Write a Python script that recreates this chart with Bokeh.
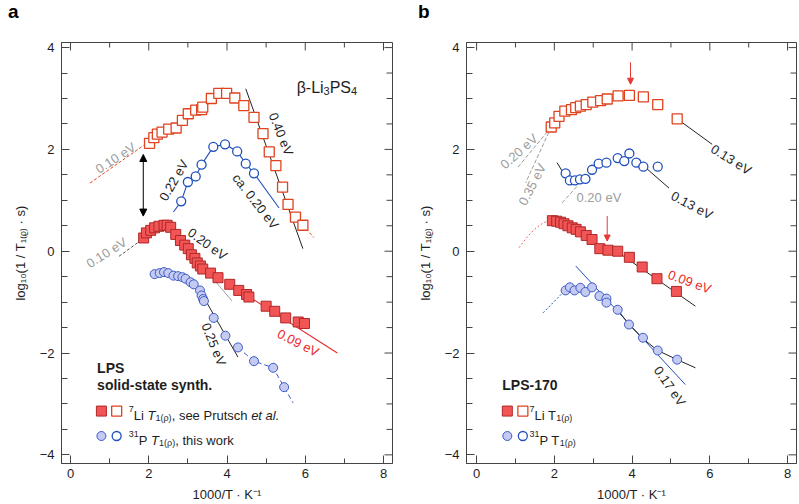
import math
from bokeh.plotting import figure
from bokeh.models import Range1d, FixedTicker, Arrow, NormalHead, Div
from bokeh.layouts import row, column
from bokeh.embed import file_html
from bokeh.resources import INLINE
from bokeh.core.properties import value

FONT = "Liberation Sans"

# ---------------- data: panel a (LPS solid-state synth.) ----------------
a_li_open_x = [2.02, 2.13, 2.22, 2.34, 2.51, 2.70, 2.86, 3.01, 3.20, 3.35, 3.38, 3.60, 3.79, 3.99,
               4.20, 4.43, 4.69, 4.92, 5.08, 5.25, 5.42, 5.56, 5.75, 5.94]
a_li_open_y = [2.12, 2.23, 2.30, 2.34, 2.40, 2.42, 2.57, 2.70, 2.77, 2.78, 2.83, 3.00, 3.10, 3.10,
               3.01, 2.86, 2.63, 2.31, 1.95, 1.68, 1.26, 0.92, 0.67, 0.51]
a_li_fill_x = [1.87, 1.94, 2.05, 2.15, 2.26, 2.39, 2.47, 2.56, 2.69, 2.81, 2.92, 3.01, 3.09, 3.18,
               3.24, 3.32, 3.38, 3.58, 3.77, 4.07, 4.30, 4.50, 4.56, 5.00, 5.22, 5.50, 5.82, 5.98]
a_li_fill_y = [0.26, 0.36, 0.41, 0.46, 0.49, 0.51, 0.51, 0.47, 0.33, 0.21, 0.12, 0.05, -0.07, -0.14,
               -0.23, -0.29, -0.35, -0.43, -0.52, -0.65, -0.77, -0.85, -0.90, -1.08, -1.18, -1.31, -1.39, -1.42]
a_p_open_x = [2.83, 3.00, 3.20, 3.35, 3.65, 3.95, 4.26, 4.48, 4.69]
a_p_open_y = [0.98, 1.36, 1.47, 1.70, 2.05, 2.10, 1.96, 1.72, 1.53]
a_p_fill_x = [2.15, 2.28, 2.39, 2.50, 2.63, 2.75, 2.86, 2.94, 3.07, 3.15, 3.31, 3.35, 3.39, 3.41,
              3.66, 3.96, 4.28, 4.69, 5.18, 5.46]
a_p_fill_y = [-0.45, -0.43, -0.41, -0.43, -0.48, -0.49, -0.51, -0.54, -0.61, -0.65, -0.77, -0.87, -0.94, -0.98,
              -1.31, -1.66, -1.89, -2.16, -2.29, -2.67]

# fit / guide lines panel a
a_fit_li_hi_x, a_fit_li_hi_y = [0.50, 1.87], [1.34, 2.08]          # 0.10 eV (red dashed)
a_fit_li_040_x, a_fit_li_040_y = [4.48, 5.94], [3.19, 0.05]        # 0.40 eV
a_fit_li_tail_x, a_fit_li_tail_y = [5.94, 6.22], [0.51, 0.27]
a_fit_li_lo_x, a_fit_li_lo_y = [1.24, 1.83], [-0.10, 0.23]         # 0.10 eV (dashed)
a_fit_li_020_x, a_fit_li_020_y = [2.55, 4.13], [0.45, -0.98]       # 0.20 eV
a_fit_li_009_x, a_fit_li_009_y = [4.00, 6.82], [-0.62, -2.00]      # 0.09 eV
a_p_open_line_x = [2.63] + a_p_open_x + [5.33]
a_p_open_line_y = [0.77] + a_p_open_y + [0.85]
a_fit_p_025_x, a_fit_p_025_y = [3.32, 4.28], [-0.79, -2.08]        # 0.25 eV
a_p_tail_x = [4.28, 4.69, 5.18, 5.46, 5.69]
a_p_tail_y = [-1.89, -2.16, -2.29, -2.67, -2.98]

# ---------------- data: panel b (LPS-170) ----------------
b_li_open_x = [1.92, 2.01, 2.12, 2.27, 2.44, 2.55, 2.67, 2.82, 2.99, 3.19, 3.36, 3.64, 3.93, 4.29, 4.66, 5.16]
b_li_open_y = [2.44, 2.52, 2.65, 2.75, 2.78, 2.82, 2.85, 2.88, 2.93, 2.96, 2.99, 3.05, 3.06, 3.03, 2.88, 2.60]
b_li_fill_x = [1.95, 2.06, 2.16, 2.25, 2.35, 2.46, 2.56, 2.67, 2.82, 2.97, 3.17, 3.38, 3.63, 3.93, 4.26, 4.64, 5.14]
b_li_fill_y = [0.60, 0.59, 0.57, 0.54, 0.50, 0.46, 0.43, 0.38, 0.31, 0.23, 0.05, 0.02, 0.00, -0.12, -0.31, -0.54, -0.79]
b_p_open_x = [2.29, 2.40, 2.53, 2.66, 2.80, 2.97, 3.14, 3.34, 3.63, 3.80, 3.93, 4.11, 4.29, 4.66]
b_p_open_y = [1.53, 1.39, 1.39, 1.41, 1.42, 1.60, 1.72, 1.74, 1.83, 1.77, 1.92, 1.74, 1.66, 1.66]
b_p_fill_x = [2.29, 2.40, 2.52, 2.67, 2.80, 2.97, 3.16, 3.34, 3.34, 3.63, 3.92, 4.28, 4.66, 5.16]
b_p_fill_y = [-0.77, -0.71, -0.77, -0.72, -0.80, -0.71, -0.88, -0.93, -1.01, -1.15, -1.44, -1.70, -1.95, -2.13]

b_fit_li_013_x, b_fit_li_013_y = [5.16, 6.06], [2.60, 2.10]
b_fit_li_020_x, b_fit_li_020_y = [1.92, 1.05], [2.44, 1.64]
b_fit_li_035_x, b_fit_li_035_y = [1.92, 1.26], [2.44, 1.34]
b_fit_p_short_x, b_fit_p_short_y = [2.07, 2.22], [1.74, 1.55]
b_fit_p_020_x, b_fit_p_020_y = [2.20, 2.59], [0.95, 1.28]
b_fit_p_013_x, b_fit_p_013_y = [4.35, 4.95], [1.64, 1.24]
b_fit_li_009_x, b_fit_li_009_y = [3.60, 5.63], [0.00, -1.08]
b_li_low_x = [1.09, 1.30, 1.50, 1.70, 1.85]
b_li_low_y = [0.07, 0.28, 0.44, 0.55, 0.60]
b_p_low_x, b_p_low_y = [1.71, 2.25], [-1.21, -0.79]
b_fit_p_017_x, b_fit_p_017_y = [2.55, 5.37], [-0.29, -2.62]
b_p_hi_line_x = [3.63, 3.92, 4.28, 4.66, 5.16, 5.63]
b_p_hi_line_y = [-1.15, -1.44, -1.72, -1.95, -2.13, -2.29]

x_major = [0, 2, 4, 6, 8]
x_minor = [1, 3, 5, 7]
y_major = [-4, -2, 0, 2, 4]
y_minor = [-3.5, -3, -2.5, -1.5, -1, -0.5, 0.5, 1, 1.5, 2.5, 3, 3.5]

# ---------------- colours ----------------
RED_OPEN = "#E0431F"
RED_FILL = "#F25555"
RED_EDGE = "#B02828"
BLUE_OPEN = "#2150BC"
BLUE_FILL = "#C4CAF2"
BLUE_EDGE = "#3E5CC4"
GRAY = "#9C9C9C"
TXT = "#1E1E1E"
RED_TXT = "#EA2A2A"
AX = "#444444"

W = {' ': 278, ',': 278, '.': 278, '(': 333, ')': 333, '-': 333, '/': 278,
     'L': 556, 'P': 667, 'T': 611, 'S': 667, 'i': 222, 'e': 556, 's': 500, 'r': 333,
     'u': 556, 't': 278, 'c': 500, 'h': 556, 'a': 556, 'l': 222, 'w': 722, 'o': 556,
     'k': 500, 'ρ': 577, 'β': 573}

HEAD_H = 22   # height of the strip holding the panel letter


def tw(s, size):
    return sum(W.get(c, 556) for c in s) / 1000.0 * size


def make_fig(xr, frame_w, left, right):
    p = figure(frame_width=frame_w, frame_height=421, x_range=Range1d(*xr), y_range=Range1d(-4.17, 4.1),
               output_backend="svg", toolbar_location=None, min_border_left=left, min_border_right=right,
               min_border_top=42 - HEAD_H, min_border_bottom=39)
    p.xgrid.visible = False
    p.ygrid.visible = False
    p.outline_line_color = AX
    p.background_fill_color = "white"
    p.border_fill_color = "white"
    p.xaxis.ticker = FixedTicker(ticks=x_major, minor_ticks=x_minor)
    p.yaxis.ticker = FixedTicker(ticks=y_major, minor_ticks=y_minor)
    for ax in list(p.xaxis) + list(p.yaxis):
        ax.axis_line_color = AX
        ax.major_tick_line_color = AX
        ax.minor_tick_line_color = AX
        ax.major_tick_in = 8
        ax.major_tick_out = 0
        ax.minor_tick_in = 5
        ax.minor_tick_out = 0
        ax.major_label_text_font = FONT
        ax.major_label_text_font_size = "13px"
        ax.major_label_text_color = TXT
        ax.axis_label_text_font = FONT
        ax.axis_label_text_font_size = "13px"
        ax.axis_label_text_font_style = "normal"
        ax.axis_label_text_color = TXT
    p.yaxis.minor_tick_in = 6
    p.xaxis.axis_label = "1000/T · K⁻¹"
    p.xaxis.major_label_standoff = 5
    p.xaxis.axis_label_standoff = 6
    p.yaxis.axis_label = "log₁₀(1 / T₁₍ᵨ₎ · s)"
    p.yaxis.major_label_standoff = 7
    p.yaxis.axis_label_standoff = 9
    # mirrored inner ticks on top and right frame edges (half of each dash is clipped by the frame)
    x0, x1 = xr
    y1 = 4.1
    p.scatter(x_major, [y1] * len(x_major), marker="dash", angle=math.pi / 2, size=16, line_color=AX, line_width=1)
    p.scatter(x_minor, [y1] * len(x_minor), marker="dash", angle=math.pi / 2, size=10, line_color=AX, line_width=1)
    p.scatter([x1] * len(y_major), y_major, marker="dash", size=16, line_color=AX, line_width=1)
    p.scatter([x1] * len(y_minor), y_minor, marker="dash", size=12, line_color=AX, line_width=1)
    return p


def head(letter, width, pad):
    return Div(text=letter, width=width, height=HEAD_H, margin=0,
               styles={"font-family": FONT, "font-size": "19px", "font-weight": "bold", "color": "black",
                       "line-height": "19px", "padding-left": f"{pad}px", "padding-top": "2px",
                       "box-sizing": "border-box", "overflow": "visible"})


def line(p, x, y, color, width=1.1, dash="solid"):
    p.line(x, y, line_color=color, line_width=width, line_dash=dash)


def lab(p, x, y, s, ang, color=TXT, size=13):
    p.text(x=[x], y=[y], text=[s], angle=math.radians(ang), text_align="center", text_baseline="middle",
           text_font=value(FONT), text_font_size=f"{size}px", text_color=color)


def rich(p, x, y, runs, color=TXT):
    xo = 0.0
    for t, size, style, dy in runs:
        p.text(x=[x], y=[y], text=[t], x_offset=xo, y_offset=dy, text_align="left", text_baseline="alphabetic",
               text_font=value(FONT), text_font_size=f"{size}px", text_font_style=style, text_color=color)
        xo += tw(t, size)


def sq_open(p, x, y):
    p.scatter(x, y, marker="square", size=10, fill_color="white", line_color=RED_OPEN, line_width=1.3)


def sq_fill(p, x, y):
    p.scatter(x, y, marker="square", size=10, fill_color=RED_FILL, line_color=RED_EDGE, line_width=1.0)


def ci_open(p, x, y):
    p.scatter(x, y, marker="circle", size=9, fill_color="white", line_color=BLUE_OPEN, line_width=1.3)


def ci_fill(p, x, y):
    p.scatter(x, y, marker="circle", size=9, fill_color=BLUE_FILL, line_color=BLUE_EDGE, line_width=1.0)


# ======================= panel a =======================
pa = make_fig((-0.23, 8.23), 331, 61, 18)

line(pa, a_fit_li_hi_x, a_fit_li_hi_y, RED_OPEN, 1.0, "3 2")
line(pa, a_fit_li_040_x, a_fit_li_040_y, "#222222", 1.0)
line(pa, a_fit_li_tail_x, a_fit_li_tail_y, RED_OPEN, 1.0, "3 2")
line(pa, a_fit_li_lo_x, a_fit_li_lo_y, "#555555", 1.0, "3 2")
line(pa, a_fit_li_020_x, a_fit_li_020_y, GRAY, 1.0)
line(pa, a_fit_li_009_x, a_fit_li_009_y, "#E52A2A", 1.1)
line(pa, a_p_open_line_x, a_p_open_line_y, BLUE_OPEN, 1.1)
line(pa, a_fit_p_025_x, a_fit_p_025_y, "#222222", 1.0)
line(pa, a_p_tail_x, a_p_tail_y, BLUE_EDGE, 1.0, "5 3")

sq_open(pa, a_li_open_x, a_li_open_y)
ci_open(pa, a_p_open_x, a_p_open_y)
sq_fill(pa, a_li_fill_x, a_li_fill_y)
ci_fill(pa, a_p_fill_x, a_p_fill_y)

pa.add_layout(Arrow(start=NormalHead(size=7, fill_color="black", line_color="black"),
                    end=NormalHead(size=7, fill_color="black", line_color="black"),
                    x_start=1.86, y_start=0.69, x_end=1.86, y_end=1.90, line_color="black", line_width=1))

lab(pa, 1.15, 1.83, "0.10 eV", 33, GRAY)
lab(pa, 5.38, 2.30, "0.40 eV", -68)
lab(pa, 2.64, 1.39, "0.22 eV", 60)
lab(pa, 4.73, 0.98, "ca. 0.20 eV", -52)
lab(pa, 0.92, -0.03, "0.10 eV", 32, GRAY)
lab(pa, 3.50, 0.14, "0.20 eV", -36)
lab(pa, 3.66, -1.83, "0.25 eV", -68)
lab(pa, 5.82, -1.80, "0.09 eV", -27, RED_TXT)

rich(pa, 5.78, 3.22, [("β-Li", 16, "normal", 0), ("3", 11, "normal", 4), ("PS", 16, "normal", 0), ("4", 11, "normal", 4)])

pa.text(x=[0.68], y=[-2.29], text=["LPS"], text_baseline="middle", text_font=value(FONT),
        text_font_size="14px", text_font_style="bold", text_color=TXT)
pa.text(x=[0.68], y=[-2.62], text=["solid-state synth."], text_baseline="middle", text_font=value(FONT),
        text_font_size="14px", text_font_style="bold", text_color=TXT)
sq_fill(pa, [0.79], [-3.14])
sq_open(pa, [1.18], [-3.14])
ci_fill(pa, [0.79], [-3.63])
ci_open(pa, [1.18], [-3.63])
rich(pa, 1.49, -3.22, [("7", 9, "normal", -6), ("Li ", 13, "normal", 0), ("T", 13, "italic", 0),
                       ("1(ρ)", 9, "normal", 3), (", see Prutsch ", 13, "normal", 0), ("et al.", 13, "italic", 0)])
rich(pa, 1.49, -3.71, [("31", 9, "normal", -6), ("P ", 13, "normal", 0), ("T", 13, "italic", 0),
                       ("1(ρ)", 9, "normal", 3), (", this work", 13, "normal", 0)])

# ======================= panel b =======================
pb = make_fig((-0.26, 8.23), 330, 56, 2)

line(pb, b_fit_li_013_x, b_fit_li_013_y, "#222222", 1.0)
line(pb, b_fit_li_020_x, b_fit_li_020_y, GRAY, 1.0, "4 2")
line(pb, b_fit_li_035_x, b_fit_li_035_y, GRAY, 1.0, "4 2")
line(pb, b_fit_p_short_x, b_fit_p_short_y, "#222222", 1.0)
line(pb, b_fit_p_020_x, b_fit_p_020_y, GRAY, 1.0, "4 2")
line(pb, b_fit_p_013_x, b_fit_p_013_y, "#222222", 1.0)
line(pb, b_fit_li_009_x, b_fit_li_009_y, "#222222", 1.0)
line(pb, b_li_low_x, b_li_low_y, "#F06060", 1.0, "2 2")
line(pb, b_p_low_x, b_p_low_y, BLUE_OPEN, 1.0, "2 2")
line(pb, b_fit_p_017_x, b_fit_p_017_y, BLUE_OPEN, 1.0)
line(pb, b_p_hi_line_x, b_p_hi_line_y, "#222222", 1.0)

sq_open(pb, b_li_open_x, b_li_open_y)
ci_open(pb, b_p_open_x, b_p_open_y)
sq_fill(pb, b_li_fill_x, b_li_fill_y)
ci_fill(pb, b_p_fill_x, b_p_fill_y)

for xa, y0, y1_ in [(3.96, 3.71, 3.28), (3.36, 0.69, 0.20)]:
    pb.add_layout(Arrow(end=NormalHead(size=6, fill_color="#E53935", line_color="#E53935"),
                        x_start=xa, y_start=y0, x_end=xa, y_end=y1_, line_color="#E53935", line_width=1))

lab(pb, 6.55, 1.80, "0.13 eV", -32)
lab(pb, 1.09, 1.96, "0.20 eV", 42, GRAY)
lab(pb, 1.43, 1.31, "0.35 eV", 63, GRAY)
pb.text(x=[2.57], y=[1.05], text=["0.20 eV"], text_baseline="middle", text_font=value(FONT),
        text_font_size="13px", text_color=GRAY)
lab(pb, 5.54, 0.90, "0.13 eV", -28)
lab(pb, 5.48, -0.60, "0.09 eV", -20, RED_TXT)
lab(pb, 4.97, -2.65, "0.17 eV", -55)

pb.text(x=[0.66], y=[-2.62], text=["LPS-170"], text_baseline="middle", text_font=value(FONT),
        text_font_size="14px", text_font_style="bold", text_color=TXT)
sq_fill(pb, [0.79], [-3.14])
sq_open(pb, [1.19], [-3.14])
ci_fill(pb, [0.79], [-3.63])
ci_open(pb, [1.19], [-3.63])
rich(pb, 1.36, -3.22, [("7", 9, "normal", -6), ("Li T", 13, "normal", 0), ("1(ρ)", 9, "normal", 3)])
rich(pb, 1.36, -3.71, [("31", 9, "normal", -6), ("P T", 13, "normal", 0), ("1(ρ)", 9, "normal", 3)])

layout = row(column(head("a", 410, 8), pa, spacing=0), column(head("b", 388, 8), pb, spacing=0), spacing=0)
open("out.html", "w").write(file_html(layout, INLINE))
